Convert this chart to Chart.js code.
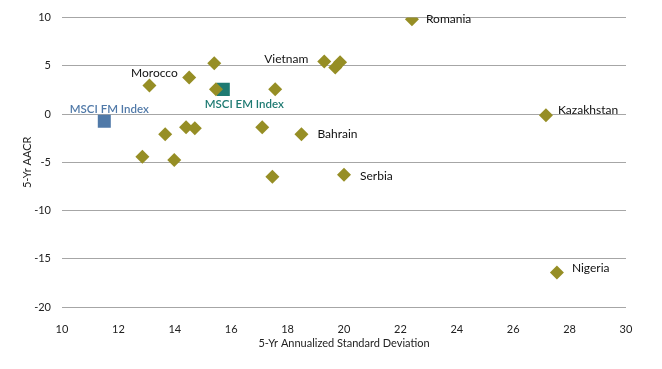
<!DOCTYPE html>
<html>
<head>
<meta charset="utf-8">
<script src="https://cdn.jsdelivr.net/npm/chart.js@4/dist/chart.umd.min.js"></script>
<style>
  html, body { margin: 0; padding: 0; background: #fff; }
  #wrap { width: 662px; height: 369px; }
</style>
</head>
<body>
<div id="wrap"><canvas id="chart"></canvas></div>
<script>
// countries: 5-yr annualized std dev (x) vs 5-yr AACR (y)
const countryNames = ['Romania', '', '', 'Vietnam', 'Morocco', '', '', '', '', 'Kazakhstan',
  'Bahrain', '', '', '', '', '', '', '', 'Serbia', 'Nigeria'];
const countryStd = [22.41, 19.69, 19.86, 19.30, 13.10, 14.51, 15.40, 15.46, 17.56, 27.16,
  18.49, 17.10, 14.40, 14.71, 13.66, 12.85, 13.98, 17.46, 20.00, 27.55];
const countryAacr = [9.82, 4.83, 5.38, 5.45, 2.97, 3.80, 5.28, 2.56, 2.56, -0.12,
  -2.08, -1.36, -1.36, -1.46, -2.09, -4.43, -4.75, -6.49, -6.29, -16.42];

const emName = 'MSCI EM Index';
const emStd = [15.72];
const emAacr = [2.56];
const fmName = 'MSCI FM Index';
const fmStd = [11.50];
const fmAacr = [-0.74];

const xTicks = [10, 12, 14, 16, 18, 20, 22, 24, 26, 28, 30];
const yTicks = [10, 5, 0, -5, -10, -15, -20];

const FONT = 'Lato, "Open Sans", sans-serif';
const toPts = (xs, ys) => xs.map((x, i) => ({ x, y: ys[i] }));

// where each label sits relative to its marker
const labelPlace = {
  'Romania': { dx: 14, dy: 0, align: 'left' },
  'Vietnam': { dx: -16, dy: -2, align: 'right' },
  'Morocco': { dx: 5, dy: -12, align: 'center' },
  'Kazakhstan': { dx: 12, dy: -5, align: 'left' },
  'Bahrain': { dx: 16, dy: 0, align: 'left' },
  'Serbia': { dx: 16, dy: 1, align: 'left' },
  'Nigeria': { dx: 15, dy: -4, align: 'left' },
  'MSCI EM Index': { dx: 21, dy: 15, align: 'center' },
  'MSCI FM Index': { dx: 5, dy: -12, align: 'center' }
};

const pointLabels = {
  id: 'pointLabels',
  afterDatasetsDraw(chart) {
    const ctx = chart.ctx;
    ctx.save();
    ctx.textBaseline = 'middle';
    chart.data.datasets.forEach((ds, di) => {
      const meta = chart.getDatasetMeta(di);
      meta.data.forEach((el, i) => {
        const name = ds.names[i];
        if (!name) return;
        const p = labelPlace[name];
        ctx.font = ds.labelBold ? '600 11.5px ' + FONT : '12px ' + FONT;
        ctx.fillStyle = ds.labelColor;
        ctx.textAlign = p.align;
        ctx.fillText(name, el.x + p.dx, el.y + p.dy);
      });
    });
    ctx.restore();
  }
};

new Chart(document.getElementById('chart'), {
  type: 'scatter',
  data: {
    datasets: [
      {
        data: toPts(countryStd, countryAacr),
        names: countryNames,
        labelColor: '#111',
        pointStyle: 'rectRot',
        radius: 7,
        backgroundColor: '#968E25',
        borderWidth: 0
      },
      {
        data: toPts(emStd, emAacr),
        names: [emName],
        labelColor: '#1E7A72',
        labelBold: true,
        pointStyle: 'rect',
        radius: 9.2,
        backgroundColor: '#1E7A72',
        borderWidth: 0
      },
      {
        data: toPts(fmStd, fmAacr),
        names: [fmName],
        labelColor: '#5079A8',
        labelBold: true,
        pointStyle: 'rect',
        radius: 9.2,
        backgroundColor: '#5079A8',
        borderWidth: 0
      }
    ]
  },
  options: {
    responsive: true,
    maintainAspectRatio: false,
    animation: false,
    layout: { padding: { top: 17, right: 36, left: 21, bottom: 19 } },
    plugins: {
      legend: { display: false },
      tooltip: { enabled: false }
    },
    scales: {
      x: {
        type: 'linear',
        min: 10, max: 30,
        afterBuildTicks: s => { s.ticks = xTicks.map(v => ({ value: v })); },
        afterFit: s => { s.height = 43; },
        grid: { display: false },
        border: { display: false },
        ticks: { color: '#222', font: { family: FONT, size: 11 }, padding: 8 },
        title: {
          display: true,
          text: '5-Yr Annualized Standard Deviation',
          color: '#222',
          font: { family: FONT, size: 11 },
          padding: { top: 2, bottom: 0 }
        }
      },
      y: {
        type: 'linear',
        min: -20, max: 10,
        afterBuildTicks: s => { s.ticks = yTicks.map(v => ({ value: v })); },
        afterFit: s => { s.width = 41; },
        grid: { color: '#A6A6A6', lineWidth: 1, drawTicks: false },
        border: { display: false },
        ticks: { color: '#222', font: { family: FONT, size: 11 }, padding: 11 },
        title: {
          display: true,
          text: '5-Yr AACR',
          color: '#222',
          font: { family: FONT, size: 11 },
          padding: { top: 0, bottom: 0 }
        }
      }
    }
  },
  plugins: [pointLabels]
});
</script>
</body>
</html>
